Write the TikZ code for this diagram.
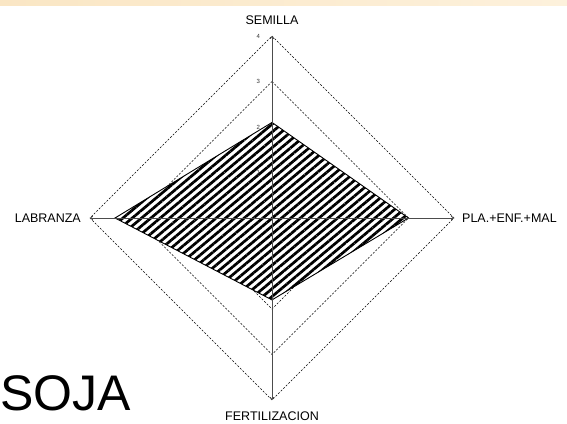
\documentclass[tikz,border=0pt]{standalone}
\usepackage{fontspec}
\setmainfont{Liberation Sans}
\usetikzlibrary{arrows.meta,patterns.meta,positioning}

\definecolor{band}{RGB}{250,230,196}
\definecolor{bandlight}{RGB}{253,241,220}

\begin{document}
\begin{tikzpicture}[
    x=1pt, y=-1pt,
    >={To[length=3pt,width=4pt]},
    font=\fontsize{12.5}{15}\selectfont,
    axis/.style={
		draw=black!70,
		line width=0.8pt
	},
	ring/.style={
		draw=black,
		line width=0.6pt,
		dash pattern=on 2pt off 1.6pt
	},
	crop/.style={
		draw=black,
		line width=0.9pt,
		preaction={fill=white},
		pattern={Lines[angle=40,distance=6pt,line width=2.7pt]}
	},
	axlabel/.style={
		inner sep=0pt
	},
	ticklbl/.style={
		inner sep=0pt,
		font=\fontsize{6}{7}\selectfont,
		text=black!80
	},
	title/.style={
		inner sep=0pt,
		anchor=base west,
		font=\fontsize{50}{55}\selectfont
	}
  ]

% // the page
\useasboundingbox (0,0) rectangle (567,423);
\shade [left color=band, right color=bandlight] (0,0) rectangle (567,5);

% // the chart
\begin{scope}[shift={(272,218)}, x=45.5pt, y=45.5pt]
 \coordinate (o) at (0,0);
 \coordinate (semilla) at (0,4);
 \coordinate (plaga) at (4,0);
 \coordinate (fert) at (0,-4);
 \coordinate (labranza) at (-4,0);

 \foreach \r in {1,...,4}
   \draw [ring] (0,\r) -- (\r,0) -- (0,-\r) -- (-\r,0) -- cycle;

% // the crop
 \draw [crop] (0,2.1) -- (3,0) -- (0,-1.8) -- (-3.45,0) -- cycle;

 \draw [axis,->] (o) -- (semilla);
 \draw [axis,->] (o) -- (plaga);
 \draw [axis,->] (o) -- (fert);
 \draw [axis,->] (o) -- (labranza);

 \foreach \k in {1,...,4}
   \node [ticklbl] (tick\k) at (-0.3,\k) {\k};
\end{scope}

 \node [axlabel, above=11pt of semilla] (lsemilla) {SEMILLA};
 \node [axlabel, right=8pt of plaga] (lplaga) {PLA.+ENF.+MAL};
 \node [axlabel, below=12pt of fert] (lfert) {FERTILIZACION};
 \node [axlabel, left=9pt of labranza] (llabranza) {LABRANZA};

 \node [title] (soja) at (0,410) {SOJA};

\end{tikzpicture}
\end{document}
